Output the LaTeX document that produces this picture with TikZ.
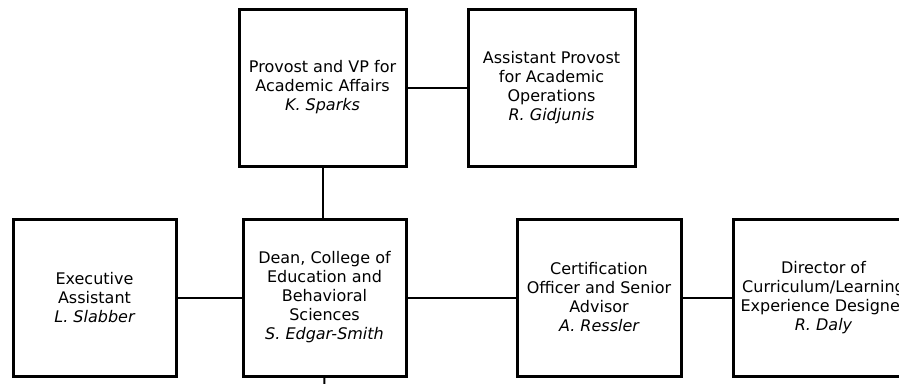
\documentclass[tikz,border=0pt]{standalone}
\usepackage{fontspec}
\setmainfont{DejaVu Sans}
\begin{document}
\begin{tikzpicture}[x=1pt,y=-1pt,
  box/.style={draw=black,line width=3pt,rectangle,inner sep=0pt,align=center,
    font=\fontsize{16}{19}\selectfont},
  conn/.style={draw=black,line width=2pt}]
\useasboundingbox (0,0) rectangle (899,383);
\clip (0,0) rectangle (899,383);
\node[box,minimum width=167pt,minimum height=157pt] (prov) at (322.5,87.5)
  {Provost and VP for\\Academic Affairs\\\itshape K. Sparks};
\node[box,minimum width=167pt,minimum height=157pt] (asst) at (551.5,87.5)
  {Assistant Provost\\for Academic\\Operations\\\itshape R. Gidjunis};
\node[box,minimum width=163pt,minimum height=157pt] (exec) at (94.5,297.5)
  {Executive\\Assistant\\\itshape L. Slabber};
\node[box,minimum width=163pt,minimum height=157pt] (dean) at (324.5,297.5)
  {Dean, College of\\Education and\\Behavioral\\Sciences\\\itshape S. Edgar-Smith};
\node[box,minimum width=164pt,minimum height=157pt] (cert) at (599,297.5)
  {Certification\\Officer and Senior\\Advisor\\\itshape A. Ressler};
\node[box,minimum width=181pt,minimum height=157pt] (dir) at (823.5,297.5)
  {Director of\\Curriculum/Learning\\Experience Designer\\\itshape R. Daly};
\coordinate (below) at (324,395);
\draw[conn] (prov.east) -- (asst.west);
\draw[conn] (prov.south) -- (prov.south |- dean.north);
\draw[conn] (exec.east) -- (dean.west);
\draw[conn] (dean.east) -- (cert.west);
\draw[conn] (cert.east) -- (dir.west);
\draw[conn] (dean.south) -- (below);
\end{tikzpicture}
\end{document}
